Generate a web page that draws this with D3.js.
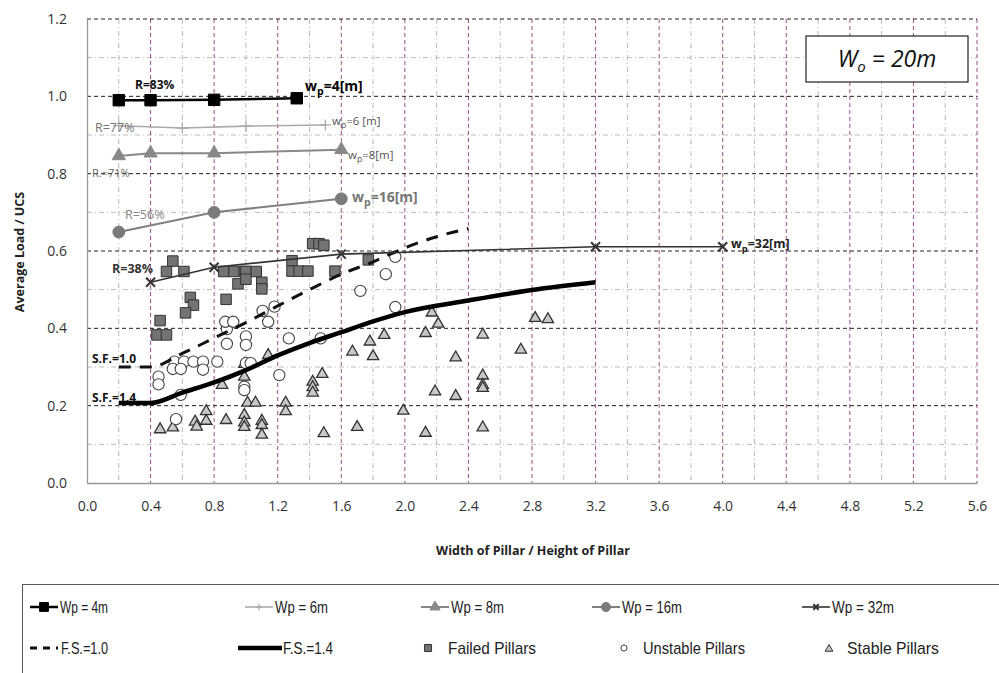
<!DOCTYPE html>
<html>
<head>
<meta charset="utf-8">
<script src="https://cdn.jsdelivr.net/npm/d3@7"></script>
<style>
body { margin: 0; background: #fff; }
svg { display: block; font-family: "Open Sans", sans-serif; }
</style>
</head>
<body>
<div id="wrapper"></div>
<script>
// tick labels
const xTicks = [0, 0.4, 0.8, 1.2, 1.6, 2.0, 2.4, 2.8, 3.2, 3.6, 4.0, 4.4, 4.8, 5.2, 5.6];
const yTicks = [0, 0.2, 0.4, 0.6, 0.8, 1.0, 1.2];
const xMinor = [0.2, 0.6, 1.0, 1.4, 1.8, 2.2, 2.6, 3.0, 3.4, 3.8, 4.2, 4.6, 5.0, 5.4];
const yMinor = [0.1, 0.3, 0.5, 0.7, 0.9, 1.1];

// pillar width series [w/h, load/UCS]
const wp4 = [[0.2, 0.99], [0.4, 0.99], [0.8, 0.991], [1.32, 0.995]];
const wp6 = [[0.2, 0.924], [0.6, 0.918], [1.0, 0.923], [1.5, 0.926]];
const wp8 = [[0.2, 0.846], [0.4, 0.853], [0.8, 0.853], [1.6, 0.862]];
const wp16 = [[0.2, 0.649], [0.8, 0.70], [1.6, 0.735]];
const wp32 = [[0.4, 0.519], [0.8, 0.558], [1.6, 0.592], [3.2, 0.611], [4.0, 0.611]];

// safety factor curves
const fs10 = [[0.2, 0.30], [0.4, 0.30], [0.6, 0.335], [0.8, 0.375], [1.0, 0.415], [1.2, 0.458],
  [1.4, 0.50], [1.6, 0.54], [1.8, 0.572], [2.0, 0.608], [2.2, 0.637], [2.4, 0.658]];
const fs14 = [[0.2, 0.207], [0.4, 0.207], [0.6, 0.234], [0.8, 0.26], [1.0, 0.292], [1.2, 0.33],
  [1.4, 0.362], [1.6, 0.39], [1.8, 0.418], [2.0, 0.442], [2.4, 0.472], [2.8, 0.499], [3.2, 0.519]];

// case data
const failed = [[0.50, 0.547], [0.54, 0.574], [0.61, 0.547], [0.86, 0.547], [0.925, 0.547], [0.99, 0.547],
  [1.0, 0.547], [1.065, 0.547], [0.95, 0.515], [1.0, 0.527], [1.10, 0.519], [1.10, 0.502],
  [0.875, 0.475], [0.65, 0.48], [0.67, 0.46], [0.62, 0.44], [0.46, 0.42], [0.44, 0.383],
  [0.50, 0.383], [1.42, 0.619], [1.46, 0.619], [1.49, 0.615], [1.29, 0.575], [1.29, 0.548],
  [1.335, 0.548], [1.39, 0.548], [1.56, 0.548], [1.77, 0.577]];
const unstable = [[0.55, 0.314], [0.61, 0.314], [0.67, 0.314], [0.73, 0.314], [0.82, 0.314],
  [0.54, 0.295], [0.59, 0.295], [0.73, 0.293], [0.45, 0.275], [0.45, 0.255], [0.59, 0.228],
  [0.56, 0.165], [0.88, 0.36], [0.88, 0.398], [0.87, 0.417], [0.92, 0.417], [1.0, 0.379],
  [1.0, 0.357], [1.0, 0.31], [0.99, 0.249], [0.99, 0.24], [1.03, 0.31], [1.105, 0.445],
  [1.14, 0.417], [1.18, 0.456], [1.21, 0.279], [1.27, 0.374], [1.47, 0.374], [1.72, 0.497],
  [1.88, 0.54], [1.94, 0.585], [1.94, 0.455]];
const stable = [[0.46, 0.141], [0.54, 0.146], [0.68, 0.161], [0.69, 0.148], [0.75, 0.188], [0.75, 0.163],
  [0.85, 0.256], [0.875, 0.165], [0.99, 0.31], [0.99, 0.277], [0.99, 0.178], [0.99, 0.159],
  [0.99, 0.147], [1.01, 0.21], [1.06, 0.21], [1.10, 0.163], [1.10, 0.152], [1.10, 0.127],
  [1.14, 0.333], [1.25, 0.21], [1.25, 0.188], [1.42, 0.264], [1.42, 0.25], [1.42, 0.236],
  [1.48, 0.284], [1.49, 0.131], [1.67, 0.342], [1.70, 0.147], [1.78, 0.368], [1.80, 0.33],
  [1.87, 0.385], [1.99, 0.189], [2.13, 0.39], [2.13, 0.132], [2.17, 0.443], [2.21, 0.414],
  [2.19, 0.239], [2.32, 0.327], [2.32, 0.227], [2.49, 0.386], [2.49, 0.28], [2.49, 0.256],
  [2.49, 0.248], [2.49, 0.146], [2.73, 0.347], [2.82, 0.429], [2.90, 0.426]];

const width = 999, height = 673;
const plot = { left: 87, right: 977, top: 19, bottom: 483 };

const svg = d3.select("#wrapper").append("svg")
  .attr("width", width)
  .attr("height", height);

const xScale = d3.scaleLinear().domain([0, 5.6]).range([plot.left, plot.right]);
const yScale = d3.scaleLinear().domain([0, 1.2]).range([plot.bottom, plot.top]);

// grid
const grid = svg.append("g");
grid.selectAll(".yminor").data(yMinor).join("line")
  .attr("x1", plot.left).attr("x2", plot.right)
  .attr("y1", d => yScale(d)).attr("y2", d => yScale(d))
  .attr("stroke", "#bbb").attr("stroke-width", 1).attr("stroke-dasharray", "5,3,1,3");
grid.selectAll(".xminor").data(xMinor).join("line")
  .attr("x1", d => xScale(d)).attr("x2", d => xScale(d))
  .attr("y1", plot.top).attr("y2", plot.bottom)
  .attr("stroke", "#bbb").attr("stroke-width", 1).attr("stroke-dasharray", "5,3,1,3");
grid.selectAll(".xmajor").data(xTicks.slice(1)).join("line")
  .attr("x1", d => xScale(d)).attr("x2", d => xScale(d))
  .attr("y1", plot.top).attr("y2", plot.bottom)
  .attr("stroke", "#9b4f8e").attr("stroke-width", 1).attr("stroke-dasharray", "4,3");
grid.selectAll(".ymajor").data(yTicks.slice(1)).join("line")
  .attr("x1", plot.left).attr("x2", plot.right)
  .attr("y1", d => yScale(d)).attr("y2", d => yScale(d))
  .attr("stroke", "#222").attr("stroke-width", 1).attr("stroke-dasharray", "4,3");

// axes
const xAxis = svg.append("g")
  .attr("transform", `translate(0,${plot.bottom})`)
  .call(d3.axisBottom(xScale).tickValues(xTicks).tickSize(0).tickPadding(18).tickFormat(d3.format(".1f")));
const yAxis = svg.append("g")
  .attr("transform", `translate(${plot.left},0)`)
  .call(d3.axisLeft(yScale).tickValues(yTicks).tickSize(0).tickPadding(20).tickFormat(d3.format(".1f")));
[xAxis, yAxis].forEach(a => {
  a.select(".domain").attr("stroke", "#999").attr("stroke-width", 1.3);
  a.selectAll("text").attr("font-size", 14).attr("fill", "#333").attr("font-family", "Open Sans");
});

svg.append("text")
  .attr("transform", "translate(24,252) rotate(-90)")
  .attr("text-anchor", "middle")
  .attr("font-size", 12.5).attr("font-weight", "bold").attr("fill", "#222")
  .text("Average Load / UCS");
svg.append("text")
  .attr("x", 533).attr("y", 555)
  .attr("text-anchor", "middle")
  .attr("font-size", 12.5).attr("font-weight", "bold").attr("fill", "#222")
  .text("Width of Pillar / Height of Pillar");

// markers
function marker(g, type, size, fill, stroke, sw) {
  if (type === "plus" || type === "times") {
    const h = size / 2;
    const p = type === "plus"
      ? `M${-h},0L${h},0M0,${-h}L0,${h}`
      : `M${-h},${-h}L${h},${h}M${-h},${h}L${h},${-h}`;
    g.append("path").attr("d", p).attr("stroke", stroke).attr("stroke-width", sw).attr("fill", "none");
    return;
  }
  const sym = { square: d3.symbolSquare, circle: d3.symbolCircle, triangle: d3.symbolTriangle }[type];
  g.append("path").attr("d", d3.symbol(sym, size)())
    .attr("fill", fill).attr("stroke", stroke).attr("stroke-width", sw);
}

// scatter
const pts = svg.append("g");
stable.forEach(d => {
  const g = pts.append("g").attr("transform", `translate(${xScale(d[0])},${yScale(d[1]) + 1})`);
  marker(g, "triangle", 56, "#c8c8c8", "#333", 1.3);
});
unstable.forEach(d => {
  const g = pts.append("g").attr("transform", `translate(${xScale(d[0])},${yScale(d[1])})`);
  marker(g, "circle", 100, "#fff", "#444", 1.1);
});
failed.forEach(d => {
  const g = pts.append("g").attr("transform", `translate(${xScale(d[0])},${yScale(d[1])})`);
  marker(g, "square", 110, "#737373", "#333", 1);
});

// safety factor lines
const line = d3.line().x(d => xScale(d[0])).y(d => yScale(d[1]));
const lineCurve = d3.line().x(d => xScale(d[0])).y(d => yScale(d[1])).curve(d3.curveMonotoneX);
svg.append("path").attr("d", lineCurve(fs10))
  .attr("fill", "none").attr("stroke", "#111").attr("stroke-width", 3)
  .attr("stroke-dasharray", "12,9");
svg.append("path").attr("d", lineCurve(fs14))
  .attr("fill", "none").attr("stroke", "#000").attr("stroke-width", 4.5);

// wp series
const series = [
  { data: wp4, color: "#000", width: 2.5, type: "square", size: 130, fill: "#000", mstroke: "#000", msw: 1 },
  { data: wp6, color: "#aaa", width: 1.6, type: "plus", size: 11, fill: "none", mstroke: "#aaa", msw: 1.3 },
  { data: wp8, color: "#888", width: 2, type: "triangle", size: 75, fill: "#888", mstroke: "#888", msw: 1 },
  { data: wp16, color: "#808080", width: 2, type: "circle", size: 110, fill: "#7a7a7a", mstroke: "#7a7a7a", msw: 1 },
  { data: wp32, color: "#333", width: 1.6, type: "times", size: 9, fill: "none", mstroke: "#333", msw: 2 }
];
series.forEach(s => {
  svg.append("path").attr("d", line(s.data))
    .attr("fill", "none").attr("stroke", s.color).attr("stroke-width", s.width);
  s.data.forEach(d => {
    const g = svg.append("g").attr("transform", `translate(${xScale(d[0])},${yScale(d[1])})`);
    marker(g, s.type, s.size, s.fill, s.mstroke, s.msw);
  });
});

// annotations
function wpLabel(x, y, num, size, color, weight) {
  const t = svg.append("text").attr("x", x).attr("y", y)
    .attr("font-size", size).attr("fill", color).attr("font-weight", weight);
  t.append("tspan").text("w");
  t.append("tspan").attr("dy", size * 0.3).attr("font-size", size * 0.75).text("p");
  t.append("tspan").attr("dy", -size * 0.3).text(num);
}
function note(x, y, txt, size, color, weight) {
  svg.append("text").attr("x", x).attr("y", y)
    .attr("font-size", size).attr("fill", color).attr("font-weight", weight).text(txt);
}
note(135, 89, "R=83%", 12, "#111", "bold");
wpLabel(305, 91, "=4[m]", 14, "#000", "bold");
note(95, 132, "R=77%", 12.5, "#777", "normal");
wpLabel(332, 125, "=6 [m]", 11.5, "#555", "normal");
wpLabel(348, 159, "=8[m]", 11.5, "#555", "normal");
note(92, 177, "R.=71%", 11, "#666", "normal");
note(125, 219, "R=56%", 12.5, "#888", "normal");
wpLabel(352, 202, "=16[m]", 14, "#777", "bold");
note(112, 273, "R=38%", 12.5, "#333", "bold");
wpLabel(731, 248, "=32[m]", 12.5, "#222", "bold");
note(92, 363, "S.F.=1.0", 12, "#111", "bold");
note(92, 402, "S.F.=1.4", 12, "#111", "bold");

// Wo box
svg.append("rect").attr("x", 806).attr("y", 36).attr("width", 162).attr("height", 46)
  .attr("fill", "#fff").attr("stroke", "#222").attr("stroke-width", 1.2);
const wo = svg.append("text").attr("x", 887).attr("y", 67).attr("text-anchor", "middle")
  .attr("font-size", 23).attr("font-style", "italic").attr("fill", "#111");
wo.append("tspan").text("W");
wo.append("tspan").attr("dy", 5).attr("font-size", 15).text("o");
wo.append("tspan").attr("dy", -5).text(" = 20m");

// legend
const legend = svg.append("g").attr("font-family", "'Liberation Sans', sans-serif");
legend.append("rect").attr("x", 22.5).attr("y", 584.5).attr("width", 1000).attr("height", 120)
  .attr("fill", "#fff").attr("stroke", "#555").attr("stroke-width", 1);

function legendText(x, y, txt, w) {
  legend.append("text").attr("x", x).attr("y", y + 6)
    .attr("font-size", 17).attr("fill", "#222")
    .attr("textLength", w).attr("lengthAdjust", "spacingAndGlyphs")
    .text(txt);
}

const legendRow1 = [
  { label: "Wp = 4m", x: 30, tw: 48, s: series[0] },
  { label: "Wp = 6m", x: 245, tw: 53, s: series[1] },
  { label: "Wp = 8m", x: 421, tw: 53, s: series[2] },
  { label: "Wp = 16m", x: 592, tw: 60, s: series[3] },
  { label: "Wp = 32m", x: 802, tw: 62, s: series[4] }
];
legendRow1.forEach(l => {
  const y = 607;
  legend.append("line").attr("x1", l.x).attr("x2", l.x + 28).attr("y1", y).attr("y2", y)
    .attr("stroke", l.s.color).attr("stroke-width", l.s.width);
  const g = legend.append("g").attr("transform", `translate(${l.x + 14},${y})`);
  marker(g, l.s.type, l.s.size * 0.6, l.s.fill, l.s.mstroke, l.s.msw);
  legendText(l.x + 30, y, l.label, l.tw);
});

const y2 = 648;
legend.append("line").attr("x1", 30).attr("x2", 58).attr("y1", y2).attr("y2", y2)
  .attr("stroke", "#111").attr("stroke-width", 3).attr("stroke-dasharray", "7,6");
legendText(61, y2, "F.S.=1.0", 47);
legend.append("line").attr("x1", 238).attr("x2", 282).attr("y1", y2).attr("y2", y2)
  .attr("stroke", "#000").attr("stroke-width", 4.5);
legendText(283, y2, "F.S.=1.4", 50);
marker(legend.append("g").attr("transform", `translate(428,${y2})`), "square", 50, "#737373", "#333", 1);
legendText(448, y2, "Failed Pillars", 88);
marker(legend.append("g").attr("transform", `translate(624,${y2})`), "circle", 30, "#fff", "#444", 1);
legendText(643, y2, "Unstable Pillars", 102);
marker(legend.append("g").attr("transform", `translate(829,${y2 + 1})`), "triangle", 26, "#c8c8c8", "#333", 1);
legendText(847, y2, "Stable Pillars", 92);
</script>
</body>
</html>
